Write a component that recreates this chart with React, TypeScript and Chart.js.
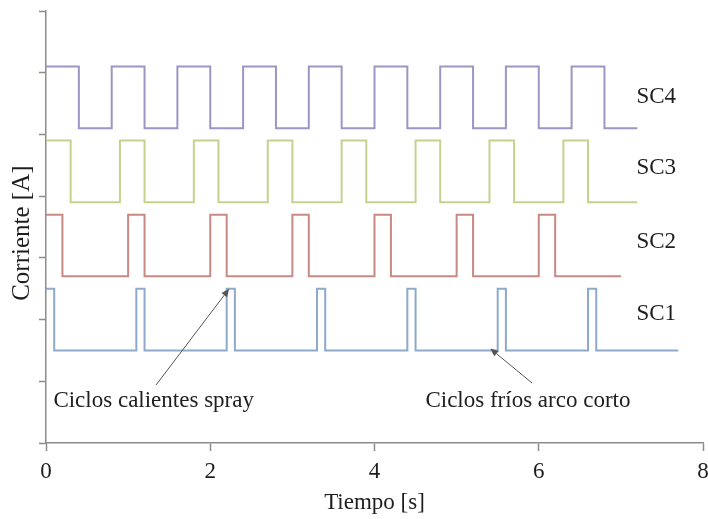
import React, { useEffect, useRef } from "react";
import { Chart, registerables } from "chart.js";

Chart.register(...registerables);

// ---- Data ----
const SERIES_NAMES = ["SC1", "SC2", "SC3", "SC4"];
const SERIES_COLORS = ["#8eaacb", "#c98983", "#c5d28e", "#9d96c2"];

const SC1_TIME = [0, 0.1, 1.1, 1.2, 2.2, 2.3, 3.3, 3.4, 4.4, 4.5, 5.5, 5.6, 6.6, 6.7, 7.7];
const SC1_CURRENT = [2.5, 1.5, 2.5, 1.5, 2.5, 1.5, 2.5, 1.5, 2.5, 1.5, 2.5, 1.5, 2.5, 1.5, 1.5];

const SC2_TIME = [0, 0.2, 1.0, 1.2, 2.0, 2.2, 3.0, 3.2, 4.0, 4.2, 5.0, 5.2, 6.0, 6.2, 7.0];
const SC2_CURRENT = [3.7, 2.7, 3.7, 2.7, 3.7, 2.7, 3.7, 2.7, 3.7, 2.7, 3.7, 2.7, 3.7, 2.7, 2.7];

const SC3_TIME = [0, 0.3, 0.9, 1.2, 1.8, 2.1, 2.7, 3.0, 3.6, 3.9, 4.5, 4.8, 5.4, 5.7, 6.3, 6.6, 7.2];
const SC3_CURRENT = [4.9, 3.9, 4.9, 3.9, 4.9, 3.9, 4.9, 3.9, 4.9, 3.9, 4.9, 3.9, 4.9, 3.9, 4.9, 3.9, 3.9];

const SC4_TIME = [0, 0.4, 0.8, 1.2, 1.6, 2.0, 2.4, 2.8, 3.2, 3.6, 4.0, 4.4, 4.8, 5.2, 5.6, 6.0, 6.4, 6.8, 7.2];
const SC4_CURRENT = [6.1, 5.1, 6.1, 5.1, 6.1, 5.1, 6.1, 5.1, 6.1, 5.1, 6.1, 5.1, 6.1, 5.1, 6.1, 5.1, 6.1, 5.1, 5.1];

const SERIES_TIMES = [SC1_TIME, SC2_TIME, SC3_TIME, SC4_TIME];
const SERIES_VALUES = [SC1_CURRENT, SC2_CURRENT, SC3_CURRENT, SC4_CURRENT];

// series name label anchors (data coords)
const LABEL_X = [7.19, 7.19, 7.19, 7.19];
const LABEL_Y = [2.09, 3.26, 4.45, 5.61];

// annotations
const NOTE_TEXT = ["Ciclos calientes spray", "Ciclos fríos arco corto"];
const NOTE_X = [0.09, 4.62];
const NOTE_Y = [0.58, 0.59];
const ARROW_FROM_X = [1.34, 5.92];
const ARROW_FROM_Y = [0.94, 0.97];
const ARROW_TO_X = [2.23, 5.41];
const ARROW_TO_Y = [2.5, 1.53];

const X_MIN = 0;
const X_MAX = 8;
const X_STEP = 2;
const Y_MIN = 0;
const Y_MAX = 7;
const Y_STEP = 1;

const X_TITLE = "Tiempo [s]";
const Y_TITLE = "Corriente [A]";
const Y_TITLE_CENTER = 3.4; // value on the y scale at which the rotated title is centred

const FONT_FAMILY = "'Liberation Serif', 'Times New Roman', serif";
const FONT_SIZE = 23;
const Y_TITLE_SIZE = 25;
const TEXT_COLOR = "#1e1e1e";
const AXIS_COLOR = "#8c8c8c";

const notesPlugin = {
  id: "notes",
  afterDatasetsDraw(chart: any) {
    const { ctx, scales } = chart;
    const xs = scales.x;
    const ys = scales.y;
    ctx.save();
    ctx.fillStyle = TEXT_COLOR;

    // y-axis title
    ctx.save();
    ctx.font = `${Y_TITLE_SIZE}px ${FONT_FAMILY}`;
    ctx.textAlign = "center";
    ctx.textBaseline = "middle";
    ctx.translate(ys.left + 22, ys.getPixelForValue(Y_TITLE_CENTER));
    ctx.rotate(-Math.PI / 2);
    ctx.fillText(Y_TITLE, 0, 0);
    ctx.restore();

    ctx.font = `${FONT_SIZE}px ${FONT_FAMILY}`;
    ctx.textAlign = "left";
    ctx.textBaseline = "middle";
    SERIES_NAMES.forEach((n, i) => {
      ctx.fillText(n, xs.getPixelForValue(LABEL_X[i]), ys.getPixelForValue(LABEL_Y[i]));
    });
    ctx.textBaseline = "alphabetic";
    NOTE_TEXT.forEach((t, i) => {
      ctx.fillText(t, xs.getPixelForValue(NOTE_X[i]), ys.getPixelForValue(NOTE_Y[i]));
    });
    ctx.strokeStyle = "#555555";
    ctx.fillStyle = "#555555";
    ctx.lineWidth = 1;
    for (let i = 0; i < ARROW_FROM_X.length; i++) {
      const x1 = xs.getPixelForValue(ARROW_FROM_X[i]);
      const y1 = ys.getPixelForValue(ARROW_FROM_Y[i]);
      const x2 = xs.getPixelForValue(ARROW_TO_X[i]);
      const y2 = ys.getPixelForValue(ARROW_TO_Y[i]);
      const ang = Math.atan2(y2 - y1, x2 - x1);
      const len = 8;
      const hw = 3.5;
      const bx = x2 - len * Math.cos(ang);
      const by = y2 - len * Math.sin(ang);
      ctx.beginPath();
      ctx.moveTo(x1, y1);
      ctx.lineTo(bx, by);
      ctx.stroke();
      ctx.beginPath();
      ctx.moveTo(x2, y2);
      ctx.lineTo(bx + hw * Math.sin(ang), by - hw * Math.cos(ang));
      ctx.lineTo(bx - hw * Math.sin(ang), by + hw * Math.cos(ang));
      ctx.closePath();
      ctx.fill();
    }
    ctx.restore();
  },
};

export default function App() {
  const canvasRef = useRef<HTMLCanvasElement | null>(null);

  useEffect(() => {
    const canvas = canvasRef.current;
    if (!canvas) return;
    const datasets = SERIES_NAMES.map((name, i) => ({
      label: name,
      data: SERIES_TIMES[i].map((t, j) => ({ x: t, y: SERIES_VALUES[i][j] })),
      borderColor: SERIES_COLORS[i],
      backgroundColor: SERIES_COLORS[i],
      borderWidth: 2,
      pointRadius: 0,
      stepped: true,
      fill: false,
    }));

    const chart = new Chart(canvas, {
      type: "line",
      data: { datasets },
      options: {
        responsive: false,
        animation: false,
        layout: { padding: { top: 11, left: 0, right: 5, bottom: 0 } },
        plugins: {
          legend: { display: false },
          tooltip: { enabled: false },
        },
        font: { family: FONT_FAMILY },
        scales: {
          x: {
            type: "linear",
            min: X_MIN,
            max: X_MAX,
            ticks: {
              stepSize: X_STEP,
              color: TEXT_COLOR,
              font: { family: FONT_FAMILY, size: FONT_SIZE },
              padding: 7,
            },
            grid: {
              drawOnChartArea: false,
              drawTicks: true,
              tickLength: 8,
              tickWidth: 1.5,
              tickColor: AXIS_COLOR,
            },
            border: { display: true, color: AXIS_COLOR, width: 1.5 },
            title: {
              display: true,
              text: X_TITLE,
              color: TEXT_COLOR,
              font: { family: FONT_FAMILY, size: FONT_SIZE },
              padding: { top: 0, bottom: 2 },
            },
            afterFit(scale: any) {
              scale.height = 76;
              scale.paddingLeft = 0;
              scale.paddingRight = 0;
            },
          },
          y: {
            type: "linear",
            min: Y_MIN,
            max: Y_MAX,
            ticks: { stepSize: Y_STEP, display: false },
            grid: {
              drawOnChartArea: false,
              drawTicks: true,
              tickLength: 7,
              tickWidth: 1.5,
              tickColor: AXIS_COLOR,
            },
            border: { display: true, color: AXIS_COLOR, width: 1.5 },
            title: { display: false, text: Y_TITLE },
            afterFit(scale: any) {
              scale.width = 46;
            },
          },
        },
      } as any,
      plugins: [notesPlugin],
    });
    return () => chart.destroy();
  }, []);

  return (
    <div style={{ position: "absolute", left: 0, top: 0, width: 708, height: 519, background: "#fff" }}>
      <canvas ref={canvasRef} width={708} height={519} style={{ display: "block" }} />
    </div>
  );
}
